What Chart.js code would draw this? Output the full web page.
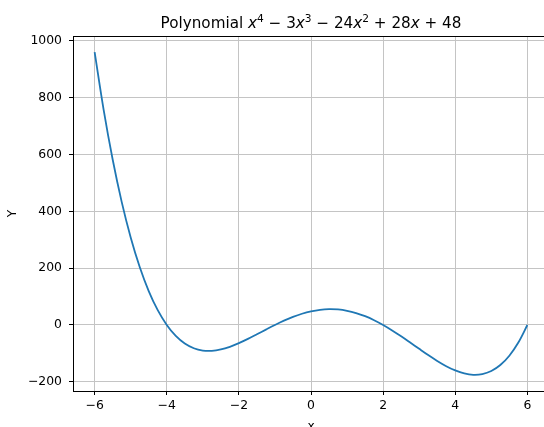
<!DOCTYPE html>
<html>
<head>
<meta charset="utf-8">
<script src="https://cdn.jsdelivr.net/npm/chart.js@4/dist/chart.umd.min.js"></script>
<style>
  html, body { margin: 0; padding: 0; background: #fff; overflow: hidden; }
  #wrap { width: 544px; height: 427px; overflow: hidden; position: relative; }
  canvas { display: block; }
</style>
</head>
<body>
<div id="wrap"><canvas id="c" width="560" height="427"></canvas></div>
<script>
// Sampled curve of x^4 - 3x^3 - 24x^2 + 28x + 48 on [-6, 6]
const xValues = [
  -6, -5.75, -5.5, -5.25, -5, -4.75, -4.5, -4.25, -4, -3.75, -3.5, -3.25,
  -3, -2.75, -2.5, -2.25, -2, -1.75, -1.5, -1.25, -1, -0.75, -0.5, -0.25,
  0, 0.25, 0.5, 0.75, 1, 1.25, 1.5, 1.75, 2, 2.25, 2.5, 2.75,
  3, 3.25, 3.5, 3.75, 4, 4.25, 4.5, 4.75, 5, 5.25, 5.5, 5.75, 6
];
const yValues = [
  960, 756.96, 582.19, 433.30, 308, 204.08, 119.44, 52.05, 0, -38.54, -65.31, -81.95,
  -90, -90.92, -86.06, -76.70, -64, -49.04, -32.81, -16.20, 0, 15.08, 28.44, 39.55,
  48, 53.46, 55.69, 54.55, 50, 42.08, 30.94, 16.80, 0, -19.04, -39.81, -61.70,
  -84, -105.92, -126.56, -144.95, -160, -170.55, -175.31, -172.95, -162, -140.92, -108.06, -61.70, 0
];
const xTicks = [-6, -4, -2, 0, 2, 4, 6];
const yTicks = [-200, 0, 200, 400, 600, 800, 1000];
const xLabel = 'x';
const yLabel = 'Y';

const FONT = '"DejaVu Sans", sans-serif';
const minus = v => String(v).replace('-', '\u2212');

// Title with math-style italic variables and superscript exponents
const titleParts = [
  { t: 'Polynomial ' },
  { t: 'x', it: true }, { t: '4', sup: true },
  { t: ' \u2212 3' }, { t: 'x', it: true }, { t: '3', sup: true },
  { t: ' \u2212 24' }, { t: 'x', it: true }, { t: '2', sup: true },
  { t: ' + 28' }, { t: 'x', it: true },
  { t: ' + 48' }
];

const decorations = {
  id: 'decorations',
  afterDraw(chart) {
    const { ctx, chartArea: a } = chart;
    ctx.save();
    // top and right spines
    ctx.strokeStyle = '#000';
    ctx.lineWidth = 1;
    ctx.beginPath();
    ctx.moveTo(a.left, a.top + 0.5);
    ctx.lineTo(a.right, a.top + 0.5);
    ctx.moveTo(a.right - 0.5, a.top);
    ctx.lineTo(a.right - 0.5, a.bottom);
    ctx.stroke();

    // title
    const base = 15.2;
    const fontOf = p => (p.it ? 'italic ' : '') + (p.sup ? base * 0.7 : base) + 'px ' + FONT;
    let total = 0;
    titleParts.forEach(p => { ctx.font = fontOf(p); p.w = ctx.measureText(p.t).width; total += p.w; });
    let x = (a.left + a.right) / 2 - total / 2;
    const baseY = 27.5;
    ctx.fillStyle = '#000';
    ctx.textBaseline = 'alphabetic';
    ctx.textAlign = 'left';
    titleParts.forEach(p => {
      ctx.font = fontOf(p);
      ctx.fillText(p.t, x, p.sup ? baseY - base * 0.38 : baseY);
      x += p.w;
    });

    // axis titles
    ctx.font = '12.2px ' + FONT;
    ctx.textAlign = 'center';
    ctx.fillText(xLabel, (a.left + a.right) / 2, 429.5);
    ctx.translate(13, (a.top + a.bottom) / 2);
    ctx.rotate(-Math.PI / 2);
    ctx.textBaseline = 'middle';
    ctx.fillText(yLabel, 0, 0);
    ctx.restore();
  }
};

const gridStyle = { color: '#c4c4c4', lineWidth: 1, tickLength: 4, tickColor: '#000', tickWidth: 1 };

new Chart(document.getElementById('c'), {
  type: 'scatter',
  data: {
    datasets: [{
      data: xValues.map((x, i) => ({ x, y: yValues[i] })),
      showLine: true,
      borderColor: '#1f77b4',
      borderWidth: 1.8,
      pointRadius: 0,
      tension: 0.35,
      fill: false
    }]
  },
  options: {
    responsive: false,
    animation: false,
    layout: { padding: { top: 36, right: 11, left: 0, bottom: 0 } },
    plugins: { legend: { display: false }, tooltip: { enabled: false }, title: { display: false } },
    scales: {
      x: {
        type: 'linear',
        min: -6.6,
        max: 6.6,
        afterBuildTicks: s => { s.ticks = xTicks.map(v => ({ value: v })); },
        afterFit: s => { s.height = 36; },
        ticks: { color: '#000', font: { family: FONT, size: 12.4 }, padding: 3, maxRotation: 0, callback: v => minus(v) },
        grid: gridStyle,
        border: { display: true, color: '#000', width: 1 }
      },
      y: {
        type: 'linear',
        min: -232.3,
        max: 1016.8,
        afterBuildTicks: s => { s.ticks = yTicks.map(v => ({ value: v })); },
        afterFit: s => { s.width = 73; },
        ticks: { color: '#000', font: { family: FONT, size: 12.4 }, padding: 7, callback: v => minus(v) },
        grid: gridStyle,
        border: { display: true, color: '#000', width: 1 }
      }
    }
  },
  plugins: [decorations]
});
</script>
</body>
</html>
